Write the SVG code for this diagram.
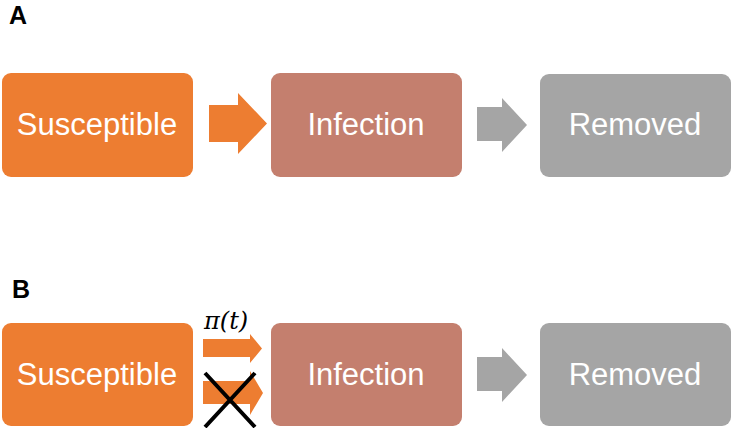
<svg xmlns="http://www.w3.org/2000/svg" width="733" height="428" viewBox="0 0 733 428">
<style>
.lbl{font-family:"Liberation Sans",Arial,sans-serif;font-weight:bold;font-size:25px;fill:#000}
.t{font-family:"Liberation Sans",Arial,sans-serif;font-size:31px;fill:#fff;text-anchor:middle}
.s{fill:#ED7D31}
.i{fill:#C47F6E}
.r{fill:#A5A5A5}
.x{stroke:#000;stroke-width:4;fill:none}
.m{font-family:"DejaVu Serif","Liberation Serif",serif;font-style:italic;font-size:24px;fill:#000}
</style>
<rect width="733" height="428" fill="#fff"/>
<text class="lbl" x="9" y="24">A</text>
<text class="lbl" x="12" y="298">B</text>
<g id="A-susceptible"><rect class="s" x="2" y="73" width="191" height="104" rx="9"/><text class="t" x="97" y="135">Susceptible</text></g>
<g id="A-infection"><rect class="i" x="271" y="73" width="191" height="104" rx="9"/><text class="t" x="366" y="135">Infection</text></g>
<g id="A-removed"><rect class="r" x="540" y="74" width="191" height="103" rx="9"/><text class="t" x="635" y="135">Removed</text></g>
<g id="B-susceptible"><rect class="s" x="2" y="323" width="191" height="103" rx="9"/><text class="t" x="97" y="385">Susceptible</text></g>
<g id="B-infection"><rect class="i" x="271" y="323" width="191" height="103" rx="9"/><text class="t" x="366" y="385">Infection</text></g>
<g id="B-removed"><rect class="r" x="540" y="323" width="191" height="103" rx="9"/><text class="t" x="635" y="385">Removed</text></g>
<g id="connectors">
<polygon class="s" points="209,105 238,105 238,93 267,123.5 238,154 238,142 209,142"/>
<polygon class="r" points="477,107 502,107 502,98 527,125 502,152 502,141 477,141"/>
<polygon class="r" points="477,357 502,357 502,348 527,375 502,402 502,391 477,391"/>
<polygon class="s" points="203,339 250,339 250,334 262,348.5 250,363 250,357 203,357"/>
<polygon class="s" points="203,381 250,381 250,371 263,393 250,415 250,404 203,404"/>
<path class="x" d="M205,373 L255,427 M255,373 L205,427"/>
<text class="m" x="204" y="329">π(t)</text>
</g>
</svg>
